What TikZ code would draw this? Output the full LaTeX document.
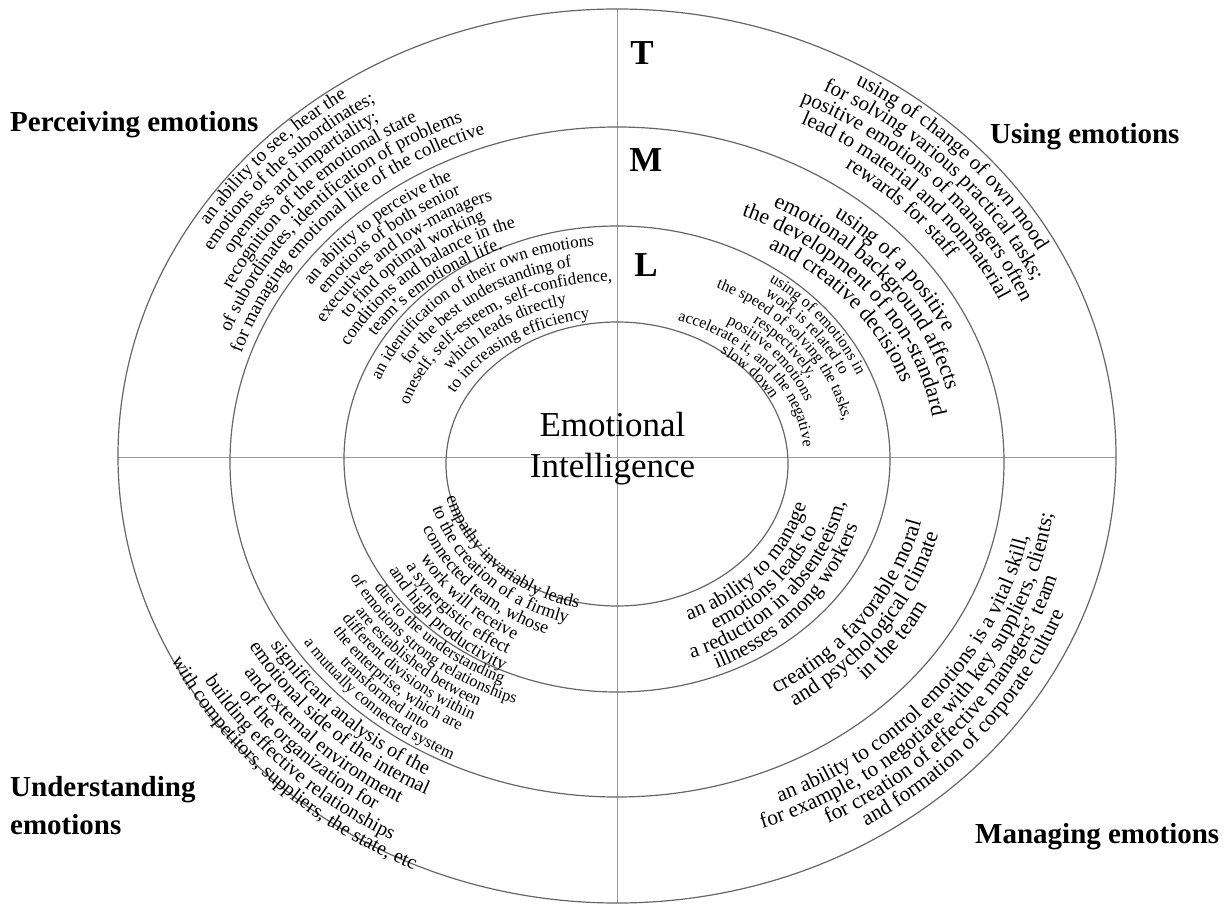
\documentclass[tikz,border=0pt]{standalone}
\usepackage{fontspec}
\setmainfont{Liberation Serif}
\usetikzlibrary{decorations.text}

\tikzset{
    sector/.style = {font=\fontsize{29}{38}\selectfont\bfseries, inner sep=0pt},
    level/.style = {font=\fontsize{35}{35}\selectfont\bfseries, inner sep=0pt},
    centre/.style = {font=\fontsize{35}{41}\selectfont, align=center, inner sep=0pt},
    ring/.style = {draw=black!60, line width=1.2pt},
    axis/.style = {draw=black!40, line width=1pt}
}

% radii, middle angle, half span (negative runs counterclockwise), size, text
\newcommand{\bendtext}[6]{%
    \path[decorate, decoration={text along path, text align=center,
        text={|\fontsize{#5}{#5}\selectfont|#6}}]
        ({#1*cos(#3+(#4))},{#2*sin(#3+(#4))})
        arc[start angle={#3+(#4)}, end angle={#3-(#4)}, x radius=#1, y radius=#2];}

\begin{document}
\begin{tikzpicture}[x=1pt, y=1pt]
    \useasboundingbox (-617,-448) rectangle (613,457);

    \draw[axis] (-499,0) -- (499,0);
    \draw[axis] (0,448) -- (0,-446);
    \draw[ring] (0,1) ellipse [x radius=499, y radius=447];
    \draw[ring] (0,-5) ellipse [x radius=387, y radius=335];
    \draw[ring] (0,-2) ellipse [x radius=273, y radius=233];
    \draw[ring] (0,-7) ellipse [x radius=171, y radius=142];

    \node[centre] (ei) at (-4.5,8) {Emotional\\Intelligence};
    \node[level] (levelT) at (25,404) {T};
    \node[level] (levelM) at (29,297) {M};
    \node[level] (levelL) at (29,192) {L};

    \node[sector, anchor=base west] (perceiving) at (-607,325) {Perceiving emotions};
    \node[sector, anchor=base west] (using) at (373,313) {Using emotions};
    \node[sector, anchor=north west, align=left] (understanding) at (-607,-319) {Understanding\\emotions};
    \node[sector, anchor=base west] (managing) at (358,-386) {Managing emotions};

    % perceiving emotions
    \bendtext{484}{433}{137.5}{50}{19}{an ability to see, hear the}
    \bendtext{466}{415}{137.5}{50}{19}{emotions of the subordinates;}
    \bendtext{448}{397}{137.5}{50}{19}{openness and impartiality;}
    \bendtext{430}{379}{137.5}{50}{19}{recognition of the emotional state}
    \bendtext{412}{361}{137.5}{50}{19}{of subordinates, identification of problems}
    \bendtext{394}{343}{137.5}{50}{19}{for managing emotional life of the collective}

    \bendtext{367}{310}{134}{50}{18}{an ability to perceive the}
    \bendtext{350.5}{293.5}{134}{50}{18}{emotions of both senior}
    \bendtext{334}{277}{134}{50}{18}{executives and low-managers}
    \bendtext{317.5}{260.5}{134}{50}{18}{to find optimal working}
    \bendtext{301}{244}{134}{50}{18}{conditions and balance in the}
    \bendtext{284.5}{227.5}{134}{50}{18}{team's emotional life.}

    \bendtext{254}{212}{128.5}{50}{17}{an identification of their own emotions}
    \bendtext{236}{194}{128.5}{50}{17}{for the best understanding of}
    \bendtext{218}{176}{128.5}{50}{17}{oneself, self-esteem, self-confidence,}
    \bendtext{200}{158}{128.5}{50}{17}{which leads directly}
    \bendtext{182}{140}{128.5}{50}{17}{to increasing efficiency}

    % using emotions
    \bendtext{480}{429}{42.8}{50}{21}{using of change of own mood}
    \bendtext{460.5}{409.5}{42.8}{50}{21}{for solving various practical tasks;}
    \bendtext{441}{390}{42.8}{50}{21}{positive emotions of managers often}
    \bendtext{421.5}{370.5}{42.8}{50}{21}{lead to material and nonmaterial}
    \bendtext{402}{351}{42.8}{50}{21}{rewards for staff}

    \bendtext{359}{302}{36}{50}{22}{using of a positive}
    \bendtext{339}{282}{36}{50}{22}{emotional background affects}
    \bendtext{319}{262}{36}{50}{22}{the development of non-standard}
    \bendtext{299}{242}{36}{50}{22}{and creative decisions}

    \bendtext{259}{217}{35.5}{50}{16}{using of emotions in}
    \bendtext{244.5}{202.5}{35.5}{50}{16}{work is related to}
    \bendtext{230}{188}{35.5}{50}{16}{the speed of solving the tasks,}
    \bendtext{215.5}{173.5}{35.5}{50}{16}{respectively,}
    \bendtext{201}{159}{35.5}{50}{16}{positive emotions}
    \bendtext{186.5}{144.5}{35.5}{50}{16}{accelerate it, and the negative}
    \bendtext{172}{130}{35.5}{50}{16}{slow down}

    % understanding emotions
    \bendtext{177}{155}{225}{-50}{18}{empathy invariably leads}
    \bendtext{193.5}{171.5}{225}{-50}{18}{to the creation of a firmly}
    \bendtext{210}{188}{225}{-50}{18}{connected team, whose}
    \bendtext{226.5}{204.5}{225}{-50}{18}{work will receive}
    \bendtext{243}{221}{225}{-50}{18}{a synergistic effect}
    \bendtext{259.5}{237.5}{225}{-50}{18}{and high productivity}

    \bendtext{285.5}{247.5}{227}{-50}{16.5}{due to the understanding}
    \bendtext{300.4}{262.4}{227}{-50}{16.5}{of emotions strong relationships}
    \bendtext{315.3}{277.3}{227}{-50}{16.5}{are established between}
    \bendtext{330.2}{292.2}{227}{-50}{16.5}{different divisions within}
    \bendtext{345.1}{307.1}{227}{-50}{16.5}{the enterprise, which are}
    \bendtext{360}{322}{227}{-50}{16.5}{transformed into}
    \bendtext{375}{337}{227}{-50}{16.5}{a mutually connected system}

    \bendtext{407}{360}{225}{-50}{20}{significant analysis of the}
    \bendtext{425}{378}{225}{-50}{20}{emotional side of the internal}
    \bendtext{444}{397}{225}{-50}{20}{and external environment}
    \bendtext{462}{415}{225}{-50}{20}{of the organization for}
    \bendtext{481}{434}{225}{-50}{20}{building effective relationships}
    \bendtext{499}{452}{225}{-50}{20}{with competitors, suppliers, the state, etc}

    % managing emotions
    \bendtext{197}{175}{319}{-50}{21}{an ability to manage}
    \bendtext{215.5}{193.5}{319}{-50}{21}{emotions leads to}
    \bendtext{234}{212}{319}{-50}{21}{a reduction in absenteeism,}
    \bendtext{252.5}{230.5}{319}{-50}{21}{illnesses among workers}

    \bendtext{313}{275}{325}{-50}{22}{creating a favorable moral}
    \bendtext{333}{295}{325}{-50}{22}{and psychological climate}
    \bendtext{353}{315}{325}{-50}{22}{in the team}

    \bendtext{421}{374}{321.5}{-50}{21.5}{an ability to control emotions is a vital skill,}
    \bendtext{440.5}{393.5}{321.5}{-50}{21.5}{for example, to negotiate with key suppliers, clients;}
    \bendtext{460}{413}{321.5}{-50}{21.5}{for creation of effective managers' team}
    \bendtext{479.5}{432.5}{321.5}{-50}{21.5}{and formation of corporate culture}
\end{tikzpicture}
\end{document}
